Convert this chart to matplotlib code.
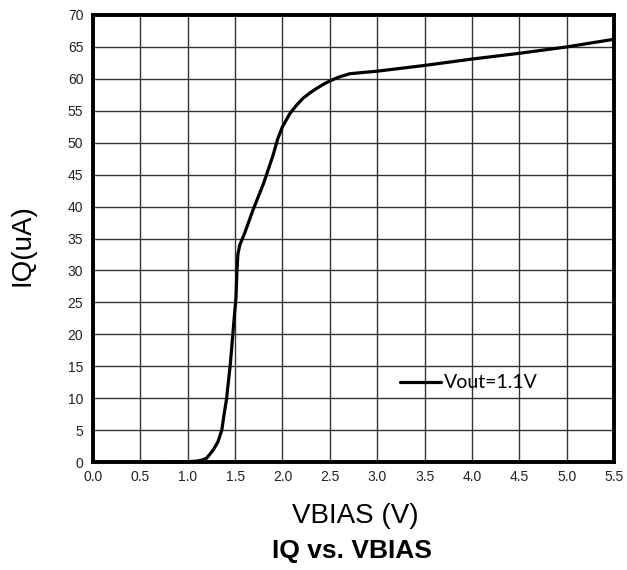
import matplotlib
matplotlib.use("Agg")
import matplotlib.pyplot as plt

# IQ vs. VBIAS curve (Vout = 1.1 V)
vbias = [0.74, 1.00, 1.10, 1.15, 1.20, 1.27, 1.32, 1.36, 1.38, 1.41, 1.45, 1.48,
         1.51, 1.52, 1.53, 1.55, 1.60, 1.69, 1.80, 1.90, 1.95, 2.00, 2.08, 2.15,
         2.22, 2.30, 2.36, 2.45, 2.52, 2.60, 2.71, 2.85, 3.00, 3.50, 4.00, 4.50,
         5.00, 5.50]
iq_ua = [0.0, 0.05, 0.15, 0.3, 0.6, 1.9, 3.2, 5.0, 7.1, 9.9, 15.4, 20.7,
         25.9, 30.1, 32.6, 34.0, 35.8, 39.5, 43.6, 48.0, 50.6, 52.5, 54.6, 55.9,
         57.0, 57.9, 58.5, 59.3, 59.8, 60.3, 60.8, 61.0, 61.2, 62.1, 63.1, 64.0,
         65.0, 66.2]
series_label = "Vout=1.1V"

x_ticks = [0.0, 0.5, 1.0, 1.5, 2.0, 2.5, 3.0, 3.5, 4.0, 4.5, 5.0, 5.5]
y_ticks = list(range(0, 71, 5))

plt.rcParams["font.family"] = ["Liberation Sans", "DejaVu Sans"]

fig = plt.figure(figsize=(6.27, 5.70), dpi=100)
ax = fig.add_axes([93 / 627, 108 / 570, 521 / 627, 447 / 570])

ax.plot(vbias, iq_ua, color="black", lw=2.3, solid_joinstyle="round",
        solid_capstyle="round", label=series_label, zorder=3, clip_on=False)

ax.set_xlim(0, 5.5)
ax.set_ylim(0, 70)
ax.set_xticks(x_ticks)
ax.set_yticks(y_ticks)
ax.set_xticklabels([f"{v:.1f}" for v in x_ticks])
ax.set_yticklabels([str(v) for v in y_ticks])
ax.tick_params(axis="both", length=0, labelsize=10, colors="#222222")
ax.tick_params(axis="x", pad=6)
ax.tick_params(axis="y", pad=7)

ax.grid(True, color="#333333", lw=1.0)
ax.set_axisbelow(True)
for s in ax.spines.values():
    s.set_linewidth(2.8)
    s.set_color("black")

fig.text(22 / 627, 1 - 245 / 570, "IQ(uA)", fontsize=20, rotation=90,
         ha="center", va="center")
fig.text(355 / 627, 1 - 516 / 570, "VBIAS (V)", fontsize=20,
         ha="center", va="center")
fig.text(352 / 627, 1 - 551 / 570, "IQ vs. VBIAS", fontsize=19,
         fontweight="bold", ha="center", va="center")

leg = ax.legend(loc="center left", bbox_to_anchor=(0.589, 0.177),
                frameon=False, borderpad=0, borderaxespad=0,
                handlelength=2.1, handletextpad=0.15,
                prop={"family": ["Lato", "DejaVu Sans"], "size": 14})

fig.savefig("out.png", dpi=100, facecolor="white")
